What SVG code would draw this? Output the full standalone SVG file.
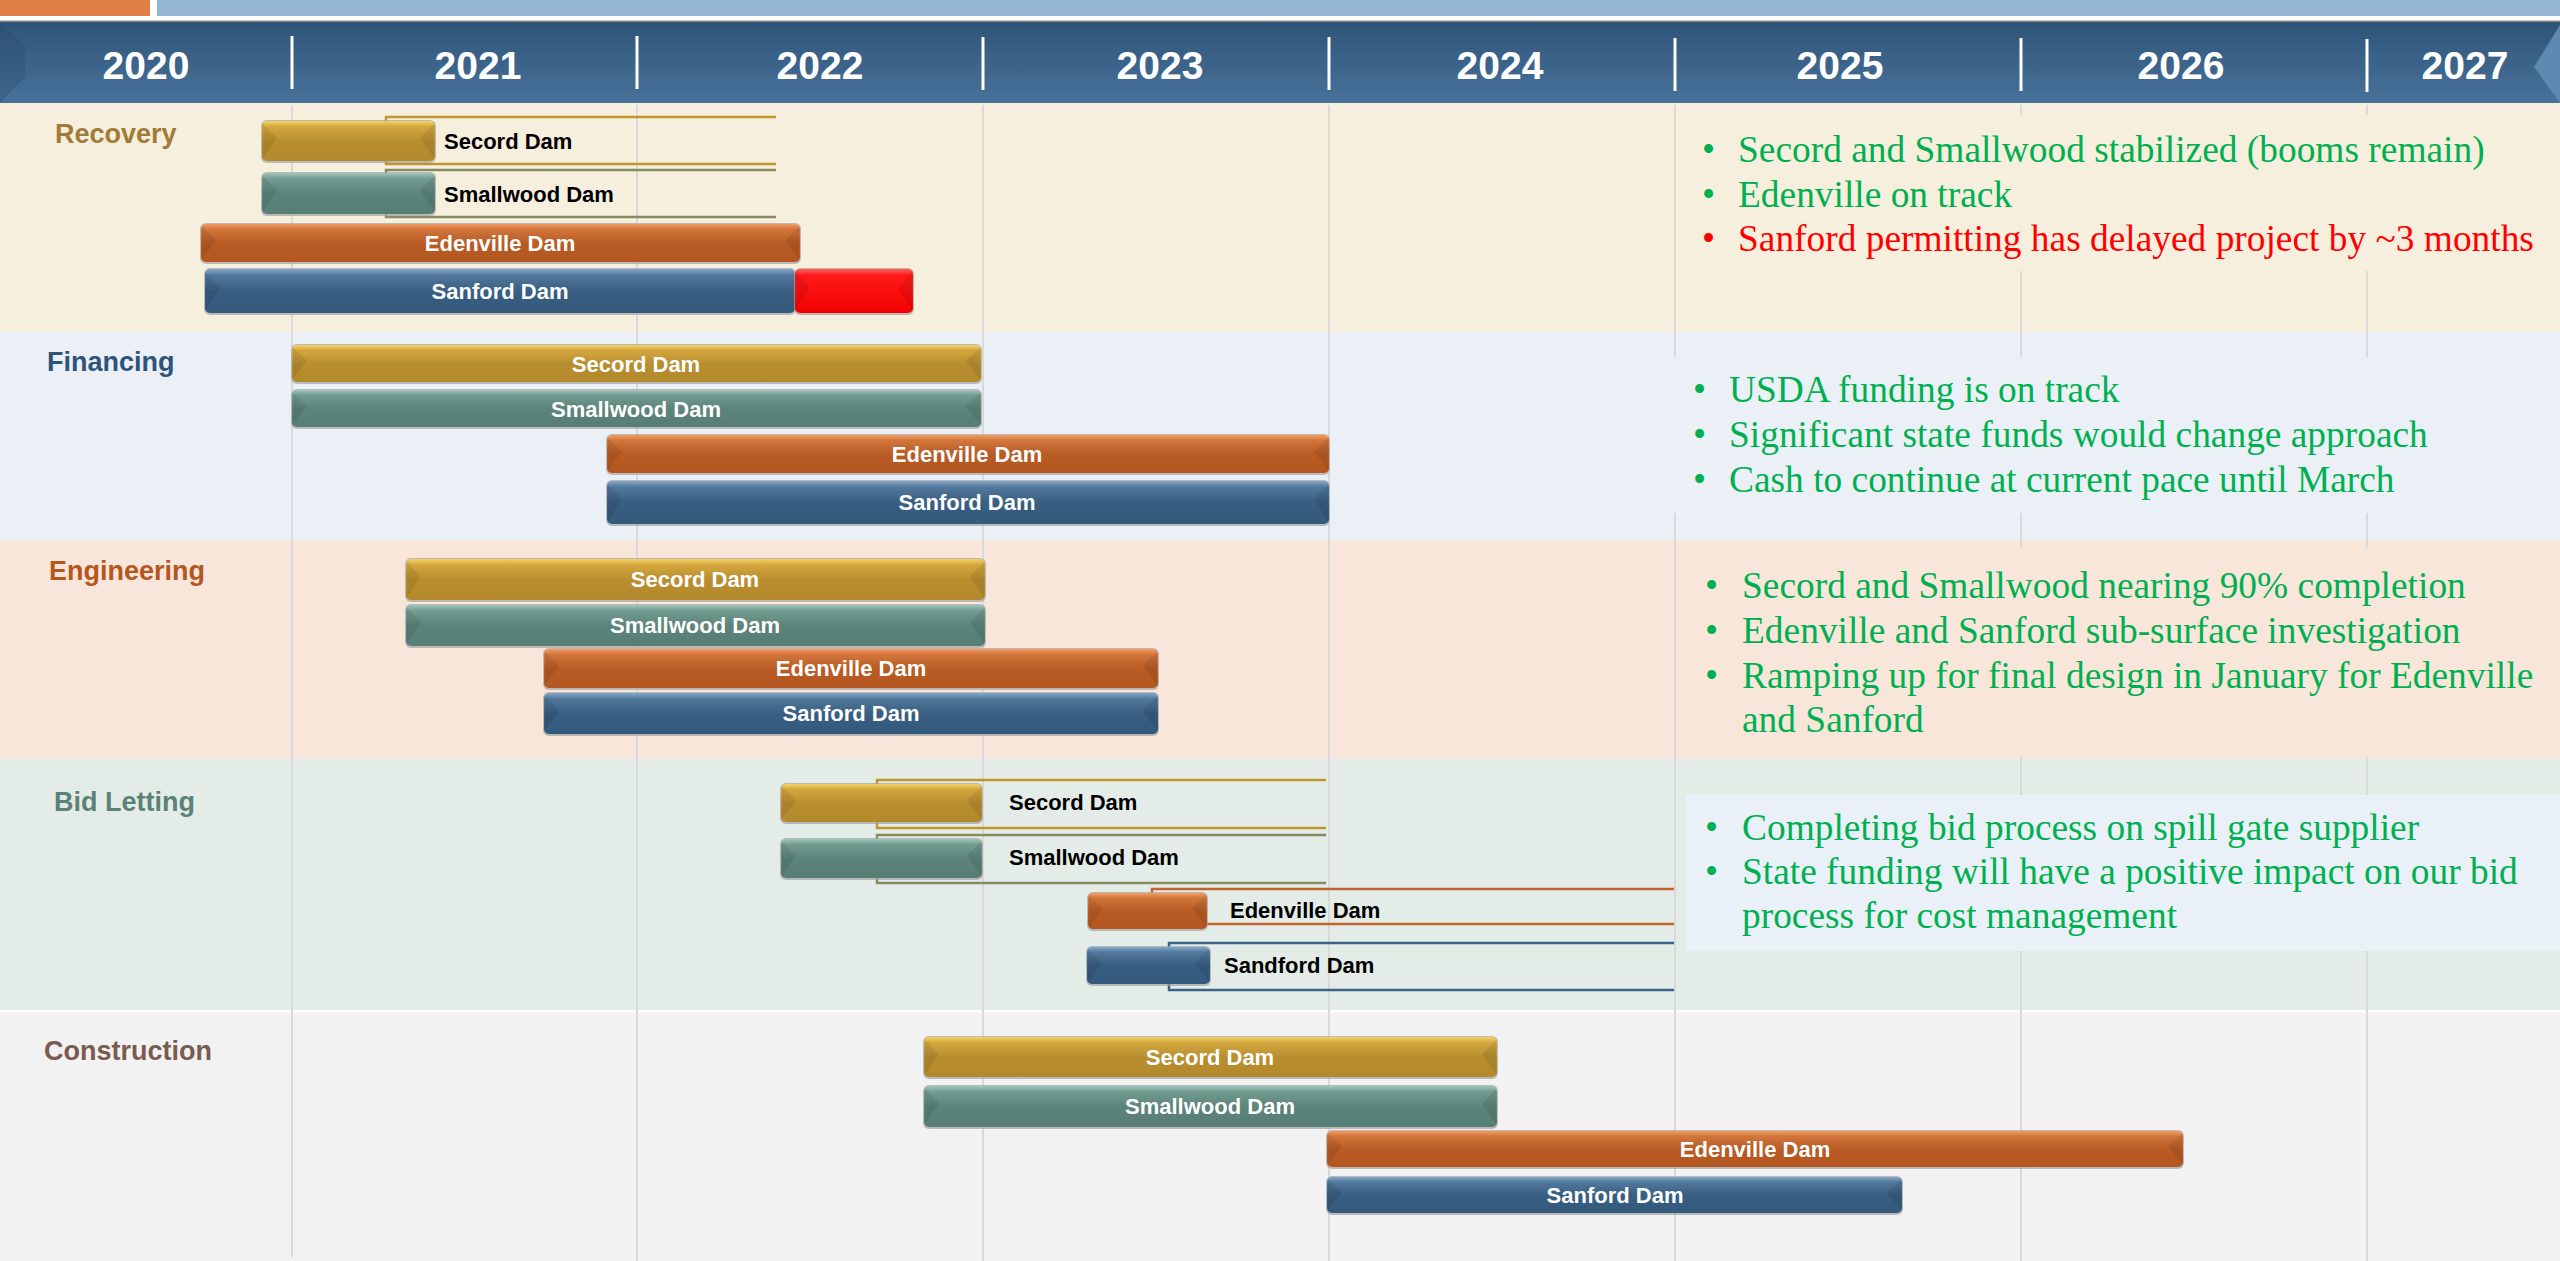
<svg xmlns="http://www.w3.org/2000/svg" xmlns:xlink="http://www.w3.org/1999/xlink" width="2560" height="1261" viewBox="0 0 2560 1261">
<defs>
<linearGradient id="gGold" x1="0" y1="0" x2="0" y2="1"><stop offset="0" stop-color="#F6D366"/><stop offset="0.14" stop-color="#D4A83E"/><stop offset="0.5" stop-color="#B98E30"/><stop offset="1" stop-color="#B2892C"/></linearGradient>
<linearGradient id="gTeal" x1="0" y1="0" x2="0" y2="1"><stop offset="0" stop-color="#A1C6BC"/><stop offset="0.14" stop-color="#739C91"/><stop offset="0.5" stop-color="#5C847A"/><stop offset="1" stop-color="#577E74"/></linearGradient>
<linearGradient id="gOrange" x1="0" y1="0" x2="0" y2="1"><stop offset="0" stop-color="#F49D62"/><stop offset="0.14" stop-color="#D2763C"/><stop offset="0.5" stop-color="#B95B25"/><stop offset="1" stop-color="#B4561F"/></linearGradient>
<linearGradient id="gBlue" x1="0" y1="0" x2="0" y2="1"><stop offset="0" stop-color="#84A8CB"/><stop offset="0.14" stop-color="#52799C"/><stop offset="0.5" stop-color="#385E82"/><stop offset="1" stop-color="#33597B"/></linearGradient>
<linearGradient id="gRed" x1="0" y1="0" x2="0" y2="1"><stop offset="0" stop-color="#FF6060"/><stop offset="0.14" stop-color="#FF1A1A"/><stop offset="1" stop-color="#F20000"/></linearGradient>
<linearGradient id="gHead" x1="0" y1="0" x2="0" y2="1"><stop offset="0" stop-color="#2F5478"/><stop offset="1" stop-color="#48729B"/></linearGradient>
<path id="chev" d="M1,3 L15,17 L1,37 Z" fill="#000" opacity="0.08"/>
</defs>
<style>
.yr{font-family:"Liberation Sans",Arial,sans-serif;font-weight:bold;font-size:39px;fill:#fff;text-anchor:middle}
.row{font-family:"Liberation Sans",Arial,sans-serif;font-weight:bold;font-size:27px}
.bl{font-family:"Liberation Sans",Arial,sans-serif;font-weight:bold;font-size:22px;fill:#fff;text-anchor:middle}
.bk{font-family:"Liberation Sans",Arial,sans-serif;font-weight:bold;font-size:22px;fill:#000}
.nt{font-family:"Liberation Serif","Times New Roman",serif;font-size:37.4px;fill:#00B050}
.red{fill:#FF0000}
.grid{stroke:#D9D9D9;stroke-width:2}
.sh{fill:#A3A3A3;opacity:0.7}
.br{fill:none;stroke-width:2.5}
</style>

<!-- top strips -->
<rect x="0" y="0" width="150" height="16" fill="#E07F45"/>
<rect x="157" y="0" width="2403" height="16" fill="#95B6D3"/>
<rect x="0" y="20.5" width="2560" height="1.5" fill="#8A8A8A"/>

<!-- header -->
<rect x="0" y="22" width="2560" height="81" fill="url(#gHead)"/>
<polygon points="0,22 25,47 25,77 0,103" fill="#2A4C6E" opacity="0.35"/>
<polygon points="2560,25 2534,67 2560,103" fill="#5E89B1"/>
<g stroke="#fff" stroke-width="3">
<line x1="292" y1="36" x2="292" y2="89"/>
<line x1="637" y1="36" x2="637" y2="89"/>
<line x1="983" y1="37" x2="983" y2="90"/>
<line x1="1329" y1="37" x2="1329" y2="90"/>
<line x1="1675" y1="38" x2="1675" y2="91"/>
<line x1="2021" y1="38" x2="2021" y2="91"/>
<line x1="2367" y1="39" x2="2367" y2="92"/>
</g>
<text class="yr" x="146" y="79">2020</text>
<text class="yr" x="478" y="79">2021</text>
<text class="yr" x="820" y="79">2022</text>
<text class="yr" x="1160" y="79">2023</text>
<text class="yr" x="1500" y="79">2024</text>
<text class="yr" x="1840" y="79">2025</text>
<text class="yr" x="2181" y="79">2026</text>
<text class="yr" x="2465" y="79">2027</text>

<!-- bands -->
<rect x="0" y="103" width="2560" height="229" fill="#F7EFDE"/>
<rect x="0" y="332" width="2560" height="208" fill="#EBF0F7"/>
<rect x="0" y="540" width="2560" height="219" fill="#F8E6DB"/>
<rect x="0" y="759" width="2560" height="252" fill="#E4ECE8"/>
<rect x="0" y="1011" width="2560" height="250" fill="#F2F2F2"/>
<rect x="0" y="1010" width="2560" height="2.5" fill="#FFFFFF"/>

<!-- gridlines -->
<g class="grid">
<line x1="292" y1="105" x2="292" y2="1257"/>
<line x1="637" y1="105" x2="637" y2="1261"/>
<line x1="983" y1="105" x2="983" y2="1261"/>
<line x1="1329" y1="105" x2="1329" y2="1261"/>
<line x1="1675" y1="105" x2="1675" y2="1261"/>
<line x1="2021" y1="105" x2="2021" y2="1261"/>
<line x1="2367" y1="105" x2="2367" y2="1261"/>
</g>

<!-- note boxes -->
<rect x="1680" y="115" width="880" height="156" fill="#F7EFDE"/>
<rect x="1660" y="357" width="900" height="156" fill="#EBF0F7"/>
<rect x="1680" y="548" width="880" height="209" fill="#F8E6DB"/>
<rect x="1686" y="795" width="874" height="156" fill="#EAF0F7"/>

<!-- row labels -->
<text class="row" x="55" y="143" fill="#A27C36">Recovery</text>
<text class="row" x="47" y="371" fill="#2F5479">Financing</text>
<text class="row" x="49" y="580" fill="#B5561E">Engineering</text>
<text class="row" x="54" y="811" fill="#5B8278">Bid Letting</text>
<text class="row" x="44" y="1060" fill="#7A5B50">Construction</text>

<!-- connectors (brackets) -->
<g id="connectors">
<path class="br" stroke="#C0962E" d="M776,117 H386 V164 H776"/>
<path class="br" stroke="#868B62" d="M776,170 H386 V217 H776"/>
<path class="br" stroke="#C0962E" d="M1326,780 H877 V828 H1326"/>
<path class="br" stroke="#868B62" d="M1326,835 H877 V883 H1326"/>
<path class="br" stroke="#C0642C" d="M1674,889 H1152 V924 H1674"/>
<path class="br" stroke="#3D6288" d="M1674,943 H1169 V990 H1674"/>
</g>

<!-- Recovery -->
<g id="rec-secord"><rect class="sh" x="261" y="120" width="175" height="43" rx="6"/><rect x="262" y="121" width="173" height="40" rx="5" fill="url(#gGold)"/><use xlink:href="#chev" transform="translate(262,121)"/><use xlink:href="#chev" transform="translate(435,121) scale(-1,1)"/><text class="bk" x="444" y="149">Secord Dam</text></g>
<g id="rec-smallwood"><rect class="sh" x="261" y="172" width="175" height="44" rx="6"/><rect x="262" y="173" width="173" height="41" rx="5" fill="url(#gTeal)"/><use xlink:href="#chev" transform="translate(262,173) scale(1,1.025)"/><use xlink:href="#chev" transform="translate(435,173) scale(-1,1.025)"/><text class="bk" x="444" y="202">Smallwood Dam</text></g>
<g id="rec-edenville"><rect class="sh" x="200" y="223" width="601" height="41" rx="6"/><rect x="201" y="224" width="599" height="38" rx="5" fill="url(#gOrange)"/><use xlink:href="#chev" transform="translate(201,224) scale(1,0.95)"/><use xlink:href="#chev" transform="translate(800,224) scale(-1,0.95)"/><text class="bl" x="500" y="251">Edenville Dam</text></g>
<g id="rec-sanford"><rect class="sh" x="204" y="268" width="592" height="47" rx="6"/><rect x="205" y="269" width="590" height="44" rx="5" fill="url(#gBlue)"/><use xlink:href="#chev" transform="translate(205,269) scale(1,1.1)"/><text class="bl" x="500" y="299">Sanford Dam</text></g>
<g id="rec-sanford-delay"><rect class="sh" x="794" y="268" width="120" height="47" rx="6"/><rect x="795" y="269" width="118" height="44" rx="5" fill="url(#gRed)"/><use xlink:href="#chev" transform="translate(795,269) scale(1,1.1)"/><use xlink:href="#chev" transform="translate(913,269) scale(-1,1.1)"/></g>

<!-- Financing -->
<g id="fin-secord"><rect class="sh" x="291" y="344" width="691" height="40" rx="6"/><rect x="292" y="345" width="689" height="37" rx="5" fill="url(#gGold)"/><use xlink:href="#chev" transform="translate(292,345) scale(1,0.925)"/><use xlink:href="#chev" transform="translate(981,345) scale(-1,0.925)"/><text class="bl" x="636" y="372">Secord Dam</text></g>
<g id="fin-smallwood"><rect class="sh" x="291" y="389" width="691" height="40" rx="6"/><rect x="292" y="390" width="689" height="37" rx="5" fill="url(#gTeal)"/><use xlink:href="#chev" transform="translate(292,390) scale(1,0.925)"/><use xlink:href="#chev" transform="translate(981,390) scale(-1,0.925)"/><text class="bl" x="636" y="417">Smallwood Dam</text></g>
<g id="fin-edenville"><rect class="sh" x="606" y="434" width="724" height="41" rx="6"/><rect x="607" y="435" width="722" height="38" rx="5" fill="url(#gOrange)"/><use xlink:href="#chev" transform="translate(607,435) scale(1,0.95)"/><use xlink:href="#chev" transform="translate(1329,435) scale(-1,0.95)"/><text class="bl" x="967" y="462">Edenville Dam</text></g>
<g id="fin-sanford"><rect class="sh" x="606" y="480" width="724" height="46" rx="6"/><rect x="607" y="481" width="722" height="43" rx="5" fill="url(#gBlue)"/><use xlink:href="#chev" transform="translate(607,481) scale(1,1.075)"/><use xlink:href="#chev" transform="translate(1329,481) scale(-1,1.075)"/><text class="bl" x="967" y="510">Sanford Dam</text></g>

<!-- Engineering -->
<g id="eng-secord"><rect class="sh" x="405" y="558" width="581" height="44" rx="6"/><rect x="406" y="559" width="579" height="41" rx="5" fill="url(#gGold)"/><use xlink:href="#chev" transform="translate(406,559) scale(1,1.025)"/><use xlink:href="#chev" transform="translate(985,559) scale(-1,1.025)"/><text class="bl" x="695" y="587">Secord Dam</text></g>
<g id="eng-smallwood"><rect class="sh" x="405" y="604" width="581" height="44" rx="6"/><rect x="406" y="605" width="579" height="41" rx="5" fill="url(#gTeal)"/><use xlink:href="#chev" transform="translate(406,605) scale(1,1.025)"/><use xlink:href="#chev" transform="translate(985,605) scale(-1,1.025)"/><text class="bl" x="695" y="633">Smallwood Dam</text></g>
<g id="eng-edenville"><rect class="sh" x="543" y="648" width="616" height="42" rx="6"/><rect x="544" y="649" width="614" height="39" rx="5" fill="url(#gOrange)"/><use xlink:href="#chev" transform="translate(544,649) scale(1,0.975)"/><use xlink:href="#chev" transform="translate(1158,649) scale(-1,0.975)"/><text class="bl" x="851" y="676">Edenville Dam</text></g>
<g id="eng-sanford"><rect class="sh" x="543" y="692" width="616" height="44" rx="6"/><rect x="544" y="693" width="614" height="41" rx="5" fill="url(#gBlue)"/><use xlink:href="#chev" transform="translate(544,693) scale(1,1.025)"/><use xlink:href="#chev" transform="translate(1158,693) scale(-1,1.025)"/><text class="bl" x="851" y="721">Sanford Dam</text></g>

<!-- Bid Letting -->
<g id="bid-secord"><rect class="sh" x="780" y="783" width="203" height="41" rx="6"/><rect x="781" y="784" width="201" height="38" rx="5" fill="url(#gGold)"/><use xlink:href="#chev" transform="translate(781,784) scale(1,0.95)"/><use xlink:href="#chev" transform="translate(982,784) scale(-1,0.95)"/><text class="bk" x="1009" y="810">Secord Dam</text></g>
<g id="bid-smallwood"><rect class="sh" x="780" y="838" width="203" height="42" rx="6"/><rect x="781" y="839" width="201" height="39" rx="5" fill="url(#gTeal)"/><use xlink:href="#chev" transform="translate(781,839) scale(1,0.975)"/><use xlink:href="#chev" transform="translate(982,839) scale(-1,0.975)"/><text class="bk" x="1009" y="865">Smallwood Dam</text></g>
<g id="bid-edenville"><rect class="sh" x="1087" y="892" width="121" height="39" rx="6"/><rect x="1088" y="893" width="119" height="36" rx="5" fill="url(#gOrange)"/><use xlink:href="#chev" transform="translate(1088,893) scale(1,0.9)"/><use xlink:href="#chev" transform="translate(1207,893) scale(-1,0.9)"/><text class="bk" x="1230" y="918">Edenville Dam</text></g>
<g id="bid-sandford"><rect class="sh" x="1086" y="946" width="125" height="40" rx="6"/><rect x="1087" y="947" width="123" height="37" rx="5" fill="url(#gBlue)"/><use xlink:href="#chev" transform="translate(1087,947) scale(1,0.925)"/><use xlink:href="#chev" transform="translate(1210,947) scale(-1,0.925)"/><text class="bk" x="1224" y="973">Sandford Dam</text></g>

<!-- Construction -->
<g id="con-secord"><rect class="sh" x="923" y="1036" width="575" height="43" rx="6"/><rect x="924" y="1037" width="573" height="40" rx="5" fill="url(#gGold)"/><use xlink:href="#chev" transform="translate(924,1037)"/><use xlink:href="#chev" transform="translate(1497,1037) scale(-1,1)"/><text class="bl" x="1210" y="1065">Secord Dam</text></g>
<g id="con-smallwood"><rect class="sh" x="923" y="1085" width="575" height="44" rx="6"/><rect x="924" y="1086" width="573" height="41" rx="5" fill="url(#gTeal)"/><use xlink:href="#chev" transform="translate(924,1086) scale(1,1.025)"/><use xlink:href="#chev" transform="translate(1497,1086) scale(-1,1.025)"/><text class="bl" x="1210" y="1114">Smallwood Dam</text></g>
<g id="con-edenville"><rect class="sh" x="1326" y="1130" width="858" height="39" rx="6"/><rect x="1327" y="1131" width="856" height="36" rx="5" fill="url(#gOrange)"/><use xlink:href="#chev" transform="translate(1327,1131) scale(1,0.9)"/><use xlink:href="#chev" transform="translate(2183,1131) scale(-1,0.9)"/><text class="bl" x="1755" y="1157">Edenville Dam</text></g>
<g id="con-sanford"><rect class="sh" x="1326" y="1176" width="577" height="39" rx="6"/><rect x="1327" y="1177" width="575" height="36" rx="5" fill="url(#gBlue)"/><use xlink:href="#chev" transform="translate(1327,1177) scale(1,0.9)"/><use xlink:href="#chev" transform="translate(1902,1177) scale(-1,0.9)"/><text class="bl" x="1615" y="1203">Sanford Dam</text></g>

<!-- notes -->
<g id="note-recovery">
<text class="nt" x="1702" y="162">•</text><text class="nt" x="1738" y="162">Secord and Smallwood stabilized (booms remain)</text>
<text class="nt" x="1702" y="207">•</text><text class="nt" x="1738" y="207">Edenville on track</text>
<text class="nt red" x="1702" y="251">•</text><text class="nt red" x="1738" y="251">Sanford permitting has delayed project by ~3 months</text>
</g>
<g id="note-financing">
<text class="nt" x="1693" y="402">•</text><text class="nt" x="1729" y="402">USDA funding is on track</text>
<text class="nt" x="1693" y="447">•</text><text class="nt" x="1729" y="447">Significant state funds would change approach</text>
<text class="nt" x="1693" y="492">•</text><text class="nt" x="1729" y="492">Cash to continue at current pace until March</text>
</g>
<g id="note-engineering">
<text class="nt" x="1705" y="598">•</text><text class="nt" x="1742" y="598">Secord and Smallwood nearing 90% completion</text>
<text class="nt" x="1705" y="643">•</text><text class="nt" x="1742" y="643">Edenville and Sanford sub-surface investigation</text>
<text class="nt" x="1705" y="688">•</text><text class="nt" x="1742" y="688">Ramping up for final design in January for Edenville</text>
<text class="nt" x="1742" y="732">and Sanford</text>
</g>
<g id="note-bid">
<text class="nt" x="1705" y="840">•</text><text class="nt" x="1742" y="840">Completing bid process on spill gate supplier</text>
<text class="nt" x="1705" y="884">•</text><text class="nt" x="1742" y="884">State funding will have a positive impact on our bid</text>
<text class="nt" x="1742" y="928">process for cost management</text>
</g>
</svg>
